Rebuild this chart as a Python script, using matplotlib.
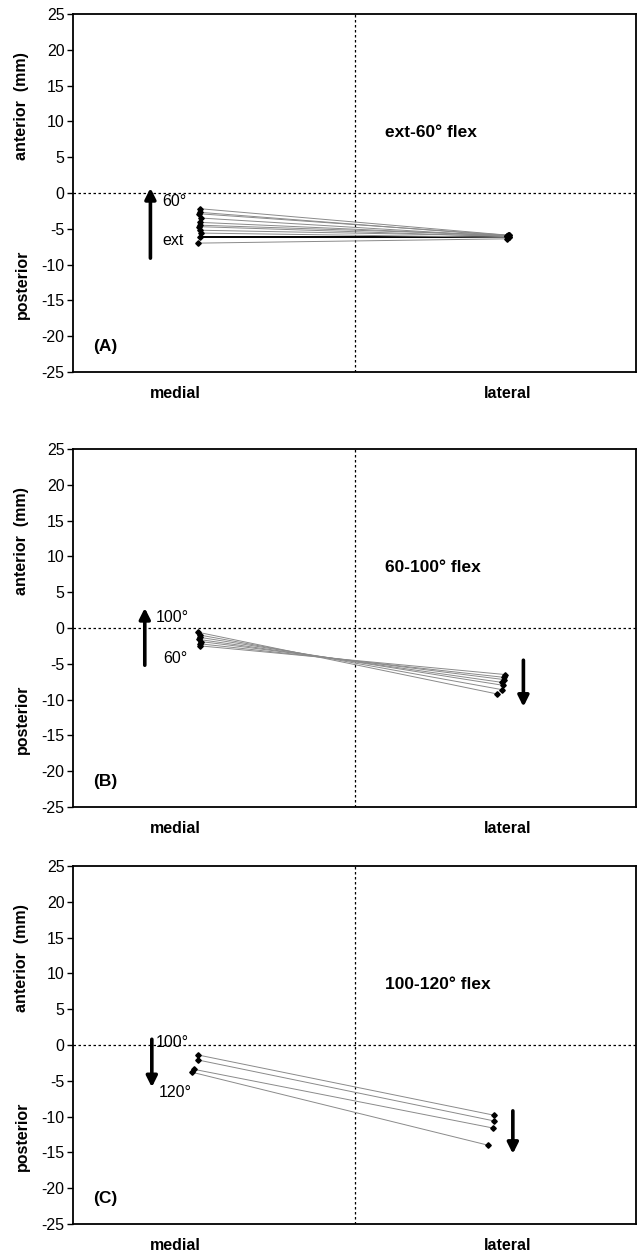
import numpy as np
import matplotlib
matplotlib.use('Agg')
import matplotlib.pyplot as plt

plt.rcParams['font.family'] = ['Liberation Sans', 'DejaVu Sans']
plt.rcParams['axes.unicode_minus'] = False

# panel A: ext -> 60 deg flexion (mm)
a_med_x = [-22.2, -22.0, -21.8, -22.0, -22.1, -21.9, -22.0, -21.8, -22.1, -22.0, -21.9]
a_med_y = [-7.0, -6.1, -5.6, -5.2, -4.7, -4.5, -4.1, -3.5, -2.9, -2.7, -2.2]
a_lat_x = [21.6, 21.8, 21.9, 21.7, 21.8, 22.0, 21.7, 21.9, 21.8, 21.6, 21.9]
a_lat_y = [-6.4, -6.1, -6.2, -6.0, -6.1, -5.9, -6.0, -6.1, -5.9, -6.0, -5.9]

# panel B: 60 -> 100 deg
b_med_x = [-21.9, -22.0, -21.8, -22.1, -22.0, -21.9, -22.2]
b_med_y = [-2.5, -2.2, -1.9, -1.6, -1.3, -1.0, -0.6]
b_lat_x = [21.4, 21.3, 21.2, 21.0, 21.1, 20.9, 20.2]
b_lat_y = [-6.5, -6.9, -7.2, -7.6, -8.0, -8.6, -9.2]

# panel C: 100 -> 120 deg
c_med_x = [-22.2, -22.2, -22.8, -23.1]
c_med_y = [-1.4, -2.1, -3.4, -3.8]
c_lat_x = [19.8, 19.8, 19.7, 19.0]
c_lat_y = [-9.8, -10.6, -11.6, -14.0]

panels = [
    dict(mx=a_med_x, my=a_med_y, lx=a_lat_x, ly=a_lat_y, dark=1,
         title='ext-60° flex', tag='(A)',
         arrows=[(-29, -9.1, 0.7)],
         labels=[(-27.3, -1.2, '60°'), (-27.3, -6.7, 'ext')]),
    dict(mx=b_med_x, my=b_med_y, lx=b_lat_x, ly=b_lat_y, dark=None,
         title='60-100° flex', tag='(B)',
         arrows=[(-29.8, -5.2, 2.8), (24.0, -4.5, -11.0)],
         labels=[(-28.2, 1.5, '100°'), (-27.2, -4.3, '60°')]),
    dict(mx=c_med_x, my=c_med_y, lx=c_lat_x, ly=c_lat_y, dark=None,
         title='100-120° flex', tag='(C)',
         arrows=[(-28.8, 0.8, -5.9), (22.5, -9.2, -15.2)],
         labels=[(-28.2, 0.4, '100°'), (-27.8, -6.7, '120°')]),
]

W, H = 637, 1253
fig = plt.figure(figsize=(W / 100, H / 100), dpi=100)
tops = [14, 449, 866]
ax_h = 358

for p, top in zip(panels, tops):
    ax = fig.add_axes([73 / W, 1 - (top + ax_h) / H, 563 / W, ax_h / H])
    ax.set_xlim(-40, 40)
    ax.set_ylim(-25, 25)
    ax.axhline(0, color='black', lw=0.9, ls=(0, (2, 2)), zorder=1)
    ax.axvline(0, color='black', lw=0.9, ls=(0, (2, 2)), zorder=1)

    for i in range(len(p['mx'])):
        col = 'black' if i == p['dark'] else '#8a8a8a'
        lw = 1.4 if i == p['dark'] else 0.7
        ax.plot([p['mx'][i], p['lx'][i]], [p['my'][i], p['ly'][i]],
                color=col, lw=lw, zorder=2)
    ax.plot(p['mx'], p['my'], 'D', color='black', ms=2.8, zorder=3)
    ax.plot(p['lx'], p['ly'], 'D', color='black', ms=2.8, zorder=3)

    for x, y0, y1 in p['arrows']:
        ax.annotate('', xy=(x, y1), xytext=(x, y0),
                    arrowprops=dict(arrowstyle='-|>', color='black', lw=2.6,
                                    mutation_scale=16, shrinkA=0, shrinkB=0))
    for x, y, s in p['labels']:
        ax.text(x, y, s, fontsize=11.5, ha='left', va='center')

    ax.text(4.3, 8.5, p['title'], fontsize=12.5, fontweight='bold',
            ha='left', va='center')
    ax.text(-37.2, -21.5, p['tag'], fontsize=12.5, fontweight='bold',
            ha='left', va='center')

    ax.set_yticks(np.arange(-25, 26, 5))
    ax.tick_params(axis='y', labelsize=11.5, length=4, width=1, pad=2)
    ax.set_xticks([-25.4, 21.8], ['medial', 'lateral'])
    ax.tick_params(axis='x', length=0, pad=10, labelsize=11.5)
    for lab in ax.get_xticklabels():
        lab.set_fontweight('bold')
    for s in ax.spines.values():
        s.set_linewidth(1.3)

    ax.text(-0.0906, 0.743, 'anterior  (mm)', transform=ax.transAxes,
            rotation=90, fontsize=11.5, fontweight='bold', ha='center', va='center')
    ax.text(-0.0906, 0.246, 'posterior', transform=ax.transAxes,
            rotation=90, fontsize=11.5, fontweight='bold', ha='center', va='center')

fig.savefig('out.png', dpi=100)
